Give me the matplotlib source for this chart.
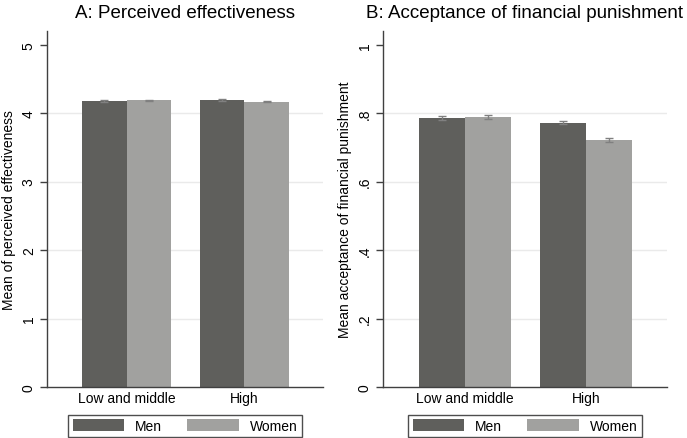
import numpy as np
import matplotlib.pyplot as plt

plt.rcParams['font.family'] = ['Liberation Sans', 'DejaVu Sans']

groups = ['Low and middle', 'High']
series = ['Men', 'Women']

eff_men = [4.18, 4.195]
eff_women = [4.185, 4.17]
eff_men_err = [0.012, 0.012]
eff_women_err = [0.014, 0.012]

pun_men = [0.786, 0.772]
pun_women = [0.788, 0.721]
pun_men_err = [0.006, 0.005]
pun_women_err = [0.006, 0.005]

panels = [
    dict(title='A: Perceived effectiveness', ylabel='Mean of perceived effectiveness',
         men=eff_men, women=eff_women, men_err=eff_men_err, women_err=eff_women_err,
         ticks=[0, 1, 2, 3, 4, 5], labels=['0', '1', '2', '3', '4', '5'], ymax=5.2),
    dict(title='B: Acceptance of financial punishment', ylabel='Mean acceptance of financial punishment',
         men=pun_men, women=pun_women, men_err=pun_men_err, women_err=pun_women_err,
         ticks=[0, 0.2, 0.4, 0.6, 0.8, 1], labels=['0', '.2', '.4', '.6', '.8', '1'], ymax=1.04),
]

men_col = '#5f5f5c'
women_col = '#a1a19f'
W, H = 687, 439
fig = plt.figure(figsize=(W / 100, H / 100), dpi=100)

axes_px = [(47, 323), (383, 667)]
top_px, bot_px = 32, 388

for p, (x0, x1) in zip(panels, axes_px):
    ax = fig.add_axes([x0 / W, (H - bot_px) / H, (x1 - x0) / W, (bot_px - top_px) / H])
    pos_men = np.array([0, 2.65])
    pos_women = pos_men + 1
    for t in p['ticks'][1:-1]:
        ax.axhline(t, color='#eaeaea', lw=1, zorder=0)
    ax.bar(pos_men, p['men'], width=1, color=men_col, label='Men', zorder=2)
    ax.bar(pos_women, p['women'], width=1, color=women_col, label='Women', zorder=2)
    ax.errorbar(pos_men, p['men'], yerr=p['men_err'], fmt='none', ecolor='#808080',
                elinewidth=1, capsize=3, zorder=3)
    ax.errorbar(pos_women, p['women'], yerr=p['women_err'], fmt='none', ecolor='#808080',
                elinewidth=1, capsize=3, zorder=3)
    ax.set_xlim(-1.29, 4.92)
    ax.set_ylim(0, p['ymax'])
    ax.set_xticks((pos_men + pos_women) / 2)
    ax.set_xticklabels(groups, fontsize=10)
    ax.tick_params(axis='x', length=0, pad=3)
    ax.set_yticks(p['ticks'])
    ax.set_yticklabels(p['labels'], rotation=90, va='center', fontsize=10)
    ax.tick_params(axis='y', length=5, width=1, color='#404040', pad=3)
    for s in ['top', 'right']:
        ax.spines[s].set_visible(False)
    for s in ['left', 'bottom']:
        ax.spines[s].set_color('#404040')
        ax.spines[s].set_linewidth(1)
    ax.set_ylabel(p['ylabel'], fontsize=10, labelpad=4)
    ax.set_title(p['title'], fontsize=13.5, pad=10)
    leg = ax.legend(loc='upper center', bbox_to_anchor=(0.5, -0.058), ncol=2, frameon=True,
                    fancybox=False, edgecolor='#222222', fontsize=10, handlelength=3.7,
                    handleheight=1.0, handletextpad=0.8, columnspacing=1.8,
                    borderpad=0.3)
    leg.get_frame().set_linewidth(1)

fig.savefig('out.png', dpi=100)
